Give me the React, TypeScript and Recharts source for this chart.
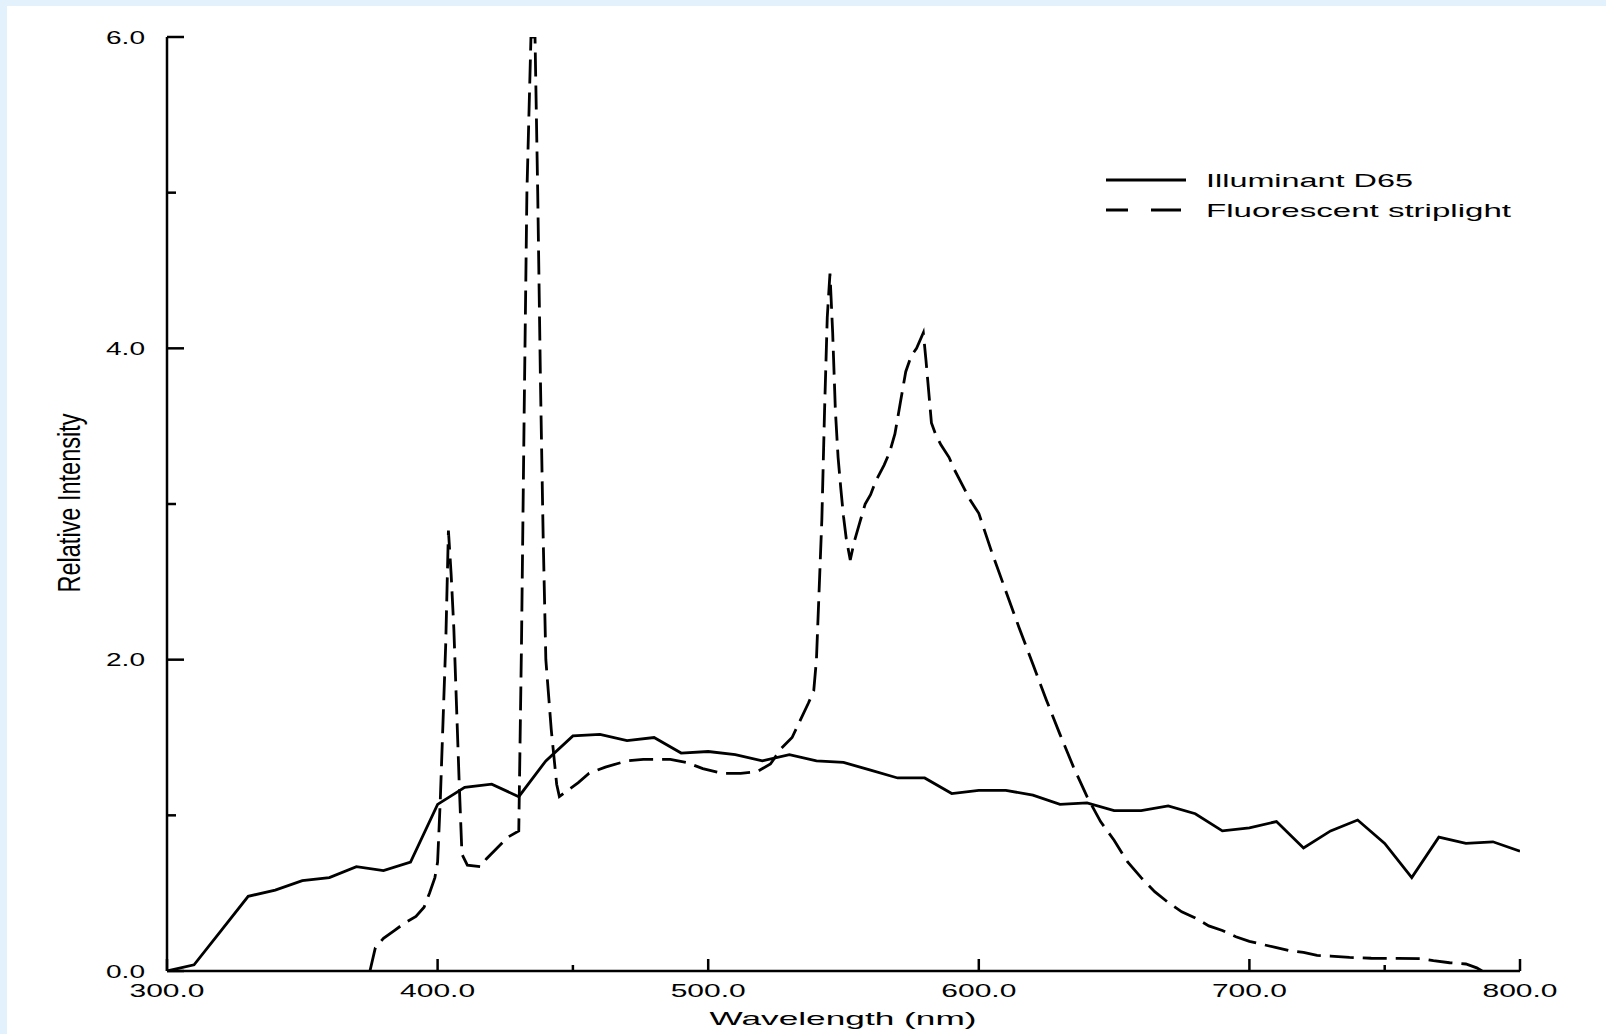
import React from 'react';
import { Legend, Line, LineChart, XAxis, YAxis } from 'recharts';

// Illuminant D65, every 10 nm
const d65Wavelengths = [
  300, 310, 320, 330, 340, 350, 360, 370, 380, 390, 400, 410, 420, 430, 440, 450, 460, 470, 480, 490, 500,
  510, 520, 530, 540, 550, 560, 570, 580, 590, 600, 610, 620, 630, 640, 650, 660, 670, 680, 690, 700,
  710, 720, 730, 740, 750, 760, 770, 780, 790, 800,
];
const d65Values = [
  0.0, 0.04, 0.26, 0.48, 0.52, 0.58, 0.6, 0.67, 0.645, 0.7, 1.07, 1.18, 1.2, 1.12, 1.35, 1.51, 1.52, 1.48, 1.5, 1.4, 1.41,
  1.39, 1.35, 1.39, 1.35, 1.34, 1.29, 1.24, 1.24, 1.14, 1.16, 1.16, 1.13, 1.07, 1.08, 1.03, 1.03, 1.06, 1.01, 0.9, 0.92,
  0.96, 0.79, 0.9, 0.97, 0.82, 0.6, 0.86, 0.82, 0.83, 0.77,
];

// Fluorescent striplight (denser around the mercury lines)
const fluorWavelengths = [
  375, 377, 380, 384, 388, 392, 395, 397, 399, 400, 401, 402, 403, 404, 405, 406, 407, 408, 409, 411,
  416, 418, 422, 426, 430, 431, 432, 433, 434.5, 436, 437, 438, 439, 440, 442, 444, 445, 448, 452, 456,
  462, 470, 476, 486, 492, 498, 505, 512, 518, 523, 527, 531, 534, 537, 539, 540, 542, 543, 544, 545,
  546, 547, 548, 549, 550, 551, 552.5, 554, 556, 558, 560, 562, 565, 567, 569, 571, 573, 575, 577, 579.5,
  580.5, 581.5, 582.5, 584, 586, 589, 591, 594, 597, 600, 605, 610, 615, 620, 625, 630, 635, 640, 645, 650,
  655, 660, 665, 670, 675, 680, 685, 690, 695, 700, 705, 710, 715, 720, 725, 730, 737, 745, 755, 763,
  768, 774, 780, 784, 786,
];
const fluorValues = [
  0.0, 0.15, 0.21, 0.26, 0.31, 0.35, 0.41, 0.5, 0.6, 0.7, 1.1, 1.6, 2.1, 2.83, 2.55, 2.2, 1.7, 1.2, 0.75, 0.68,
  0.67, 0.72, 0.79, 0.86, 0.9, 2.1, 3.6, 5.0, 6.0, 6.0, 5.0, 3.8, 2.8, 2.0, 1.55, 1.2, 1.12, 1.16, 1.21, 1.27,
  1.31, 1.35, 1.36, 1.36, 1.34, 1.3, 1.27, 1.27, 1.28, 1.33, 1.43, 1.5, 1.61, 1.72, 1.8, 2.0, 2.9, 3.6, 4.2, 4.48,
  4.1, 3.6, 3.3, 3.1, 2.92, 2.78, 2.64, 2.76, 2.88, 3.0, 3.06, 3.15, 3.25, 3.33, 3.45, 3.65, 3.85, 3.95, 4.0, 4.1,
  3.92, 3.72, 3.52, 3.45, 3.38, 3.3, 3.22, 3.12, 3.02, 2.94, 2.68, 2.44, 2.2, 1.97, 1.74, 1.52, 1.31, 1.12, 0.96, 0.84,
  0.7, 0.6, 0.51, 0.44, 0.38, 0.34, 0.29, 0.26, 0.22, 0.19, 0.17, 0.15, 0.13, 0.12, 0.1, 0.096, 0.087, 0.082, 0.081, 0.08,
  0.066, 0.053, 0.045, 0.02, 0.0,
];

const xTicks = [300, 400, 450, 500, 600, 700, 750, 800];
const yTicks = [0, 1, 2, 3, 4, 5, 6];

const d65Data = d65Wavelengths.map((wavelength, i) => ({ wavelength, value: d65Values[i] }));
const fluorData = fluorWavelengths.map((wavelength, i) => ({ wavelength, value: fluorValues[i] }));

const WIDTH = 1606;
const HEIGHT = 1034;
const PLOT_LEFT = 167;
const PLOT_BOTTOM = 971;
const FONT = '"Liberation Sans", Arial, sans-serif';
const INK = '#000';

const YTick = (props: any) => {
  const { y, payload } = props;
  const v = payload.value;
  const major = v % 2 === 0;
  return (
    <g>
      <line x1={PLOT_LEFT} x2={PLOT_LEFT + (major ? 17 : 9)} y1={y} y2={y} stroke="#000" strokeWidth={2.5} />
      {major && (
        <text
          x={PLOT_LEFT - 22}
          y={y}
          textAnchor="end"
          dominantBaseline="central"
          fontFamily={FONT}
          fontSize={19}
          fill={INK}
          textLength={39}
          lengthAdjust="spacingAndGlyphs"
        >
          {v.toFixed(1)}
        </text>
      )}
    </g>
  );
};

const XTick = (props: any) => {
  const { x, payload } = props;
  const v = payload.value;
  const major = v % 100 === 0;
  return (
    <g>
      <line x1={x} x2={x} y1={PLOT_BOTTOM} y2={PLOT_BOTTOM - (major ? 12 : 6)} stroke="#000" strokeWidth={2.5} />
      {major && (
        <text
          x={x}
          y={PLOT_BOTTOM + 26}
          textAnchor="middle"
          fontFamily={FONT}
          fontSize={19}
          fill={INK}
          textLength={75}
          lengthAdjust="spacingAndGlyphs"
        >
          {v.toFixed(1)}
        </text>
      )}
    </g>
  );
};

const XTitle = () => (
  <text
    x={843}
    y={1025}
    textAnchor="middle"
    fontFamily={FONT}
    fontSize={19}
    fill={INK}
    textLength={267}
    lengthAdjust="spacingAndGlyphs"
  >
    Wavelength (nm)
  </text>
);

const YTitle = () => (
  <text
    transform="translate(80,503) rotate(-90) scale(1,1.7)"
    x={0}
    y={0}
    textAnchor="middle"
    fontFamily={FONT}
    fontSize={18}
    fill={INK}
    textLength={179}
    lengthAdjust="spacingAndGlyphs"
  >
    Relative Intensity
  </text>
);

const LegendBox = (props: any) => {
  const entries = [...(props.payload || [])].sort((a: any, b: any) => {
    const da = a.payload?.strokeDasharray ? 1 : 0;
    const db = b.payload?.strokeDasharray ? 1 : 0;
    return da - db;
  });
  return (
    <svg width={430} height={64}>
      {entries.map((entry: any, i: number) => {
        const y = 20 + i * 30;
        const dashed = !!entry.payload?.strokeDasharray;
        return (
          <g key={entry.value}>
            <line
              x1={6}
              x2={86}
              y1={y}
              y2={y}
              stroke="#000"
              strokeWidth={2.8}
              strokeDasharray={dashed ? '22 23 30 100' : undefined}
            />
            <text
              x={106}
              y={y}
              dominantBaseline="central"
              fontFamily={FONT}
              fontSize={19}
              fill={INK}
              textLength={dashed ? 305 : 207}
              lengthAdjust="spacingAndGlyphs"
            >
              {entry.value}
            </text>
          </g>
        );
      })}
    </svg>
  );
};

export default function App() {
  return (
    <div style={{ position: 'relative', width: WIDTH, height: HEIGHT, background: '#fff', overflow: 'hidden' }}>
      <style>{'body{margin:0;background:#fff}'}</style>
      <div style={{ position: 'absolute', left: 0, top: 0, width: WIDTH, height: 6, background: '#e2f1fc' }} />
      <div style={{ position: 'absolute', left: 0, top: 0, width: 7, height: HEIGHT, background: '#e2f1fc' }} />
      <LineChart width={WIDTH} height={HEIGHT} margin={{ top: 37, right: 86, bottom: 33, left: 107 }}>
        <XAxis
          dataKey="wavelength"
          type="number"
          domain={[300, 800]}
          ticks={xTicks}
          interval={0}
          allowDataOverflow
          height={30}
          axisLine={{ stroke: '#000', strokeWidth: 2.5 }}
          tickLine={false}
          tick={(p: any) => <XTick {...p} />}
          label={<XTitle />}
        />
        <YAxis
          type="number"
          domain={[0, 6]}
          ticks={yTicks}
          interval={0}
          allowDataOverflow
          width={60}
          axisLine={{ stroke: '#000', strokeWidth: 2.5 }}
          tickLine={false}
          tick={(p: any) => <YTick {...p} />}
          label={<YTitle />}
        />
        <Legend
          layout="vertical"
          align="center"
          verticalAlign="middle"
          wrapperStyle={{ left: 1100, top: 160, width: 430, height: 64 }}
          content={(p: any) => <LegendBox {...p} />}
        />
        <Line
          data={d65Data}
          dataKey="value"
          name="Illuminant D65"
          type="linear"
          stroke="#000"
          strokeWidth={2.8}
          dot={false}
          activeDot={false}
          isAnimationActive={false}
        />
        <Line
          data={fluorData}
          dataKey="value"
          name="Fluorescent striplight"
          type="linear"
          stroke="#000"
          strokeWidth={2.8}
          strokeDasharray="24 9"
          dot={false}
          activeDot={false}
          isAnimationActive={false}
        />
      </LineChart>
    </div>
  );
}
